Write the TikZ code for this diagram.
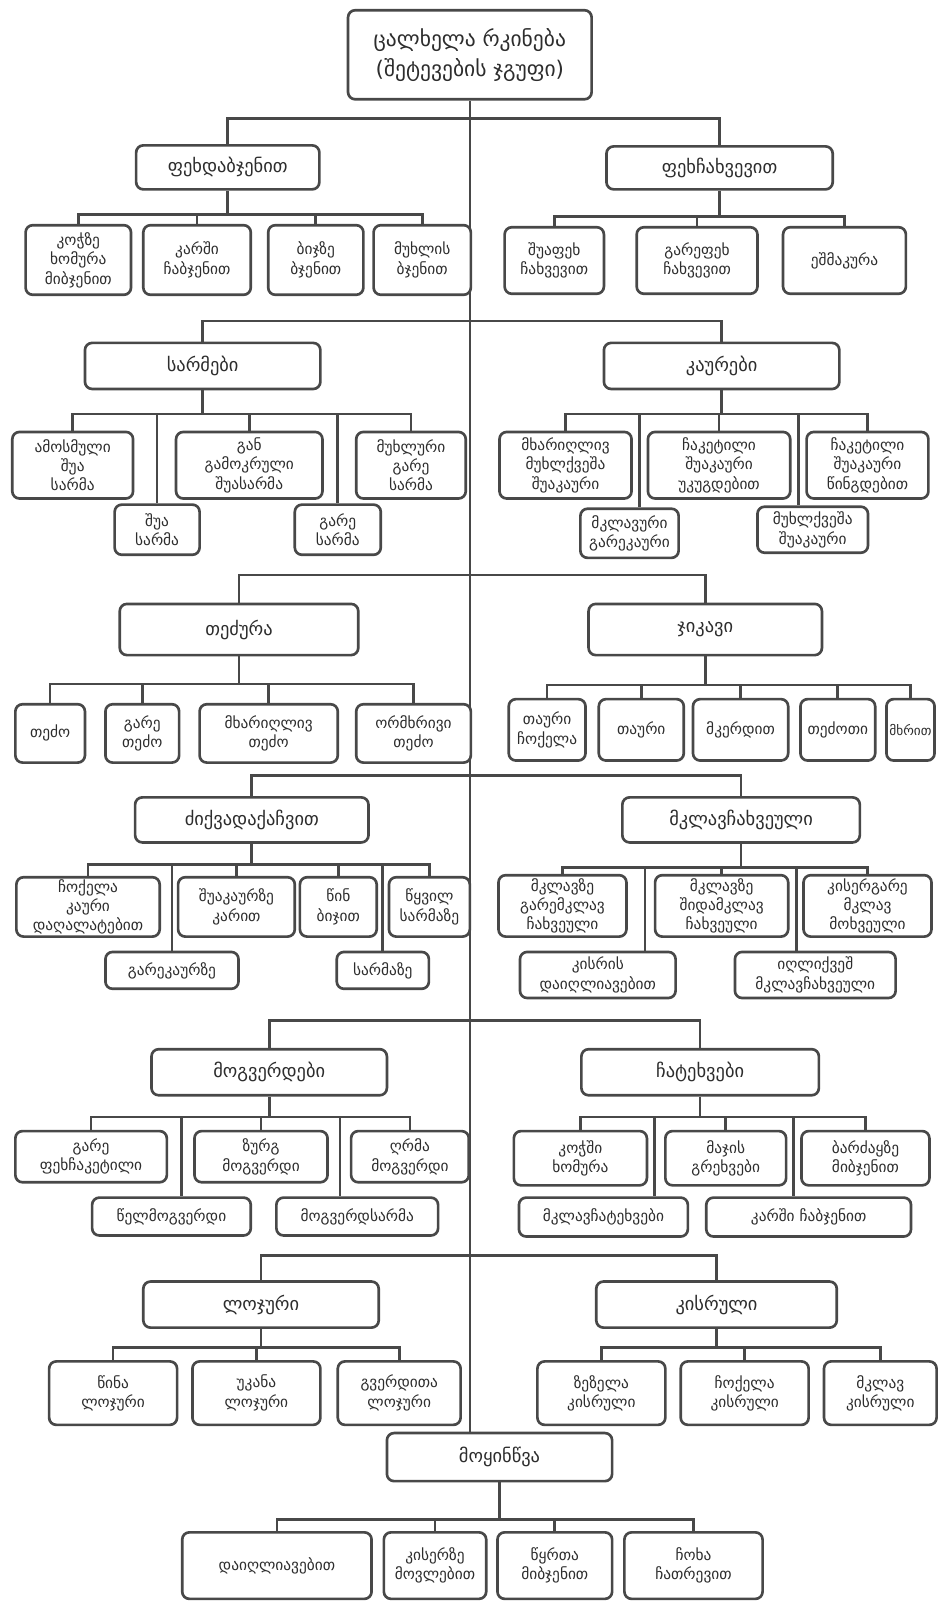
\documentclass[tikz,border=0pt]{standalone}
\usepackage{fontspec}
\setmainfont{DejaVu Sans}
\usetikzlibrary{calc,backgrounds}
\definecolor{ink}{RGB}{72,72,72}
\definecolor{txt}{RGB}{45,45,45}
\begin{document}
\begin{tikzpicture}[x=1pt,y=-1pt,line join=round,line cap=round,
    box/.style={draw=ink,line width=2.6pt,rounded corners=7pt,fill=white,align=center,
      inner sep=0pt,text=txt,font=\fontsize{15}{19}\selectfont},
    head/.style={box,font=\fontsize{18}{22}\selectfont},
    link/.style={draw=ink,line width=2.6pt}]
\useasboundingbox (0,0) rectangle (918,1568);
% headers
\node[head,minimum width=238,minimum height=87,font=\fontsize{21}{26}\selectfont] (top) at (459,53.5) {ცალხელა რკინება\\[3pt](შეტევების ჯგუფი)};
\node[head,minimum width=179,minimum height=43] (fd) at (222.5,163.5) {ფეხდაბჯენით};
\node[head,minimum width=221,minimum height=42] (fc) at (703,164) {ფეხჩახვევით};
\node[head,minimum width=230,minimum height=45] (sar) at (198,357.5) {სარმები};
\node[head,minimum width=230,minimum height=45] (kau) at (705,357.5) {კაურები};
\node[head,minimum width=233,minimum height=50] (tez) at (233.5,615) {თეძურა};
\node[head,minimum width=228,minimum height=50] (jik) at (689,615) {ჯიკავი};
\node[head,minimum width=228,minimum height=44] (dzi) at (246,801) {ძიქვადაქაჩვით};
\node[head,minimum width=232,minimum height=44] (mkl) at (724,801) {მკლავჩახვეული};
\node[head,minimum width=230,minimum height=45] (mog) at (263,1047.5) {მოგვერდები};
\node[head,minimum width=232,minimum height=45] (cht) at (684,1047.5) {ჩატეხვები};
\node[head,minimum width=230,minimum height=45] (loj) at (255,1274.5) {ლოჯური};
\node[head,minimum width=235,minimum height=45] (kis) at (700,1274.5) {კისრული};
\node[head,minimum width=220,minimum height=47] (moy) at (488,1423.5) {მოყინწვა};
% leaves
\node[box,minimum width=103,minimum height=68] (a1) at (76.5,254) {კოჭზე\\ხომურა\\მიბჯენით};
\node[box,minimum width=105,minimum height=68] (a2) at (192.5,254) {კარში\\ჩაბჯენით};
\node[box,minimum width=93,minimum height=68] (a3) at (308.5,254) {ბიჯზე\\ბჯენით};
\node[box,minimum width=95,minimum height=68] (a4) at (412.5,254) {მუხლის\\ბჯენით};
\node[box,minimum width=97,minimum height=65] (b1) at (541.5,254.5) {შუაფეხ\\ჩახვევით};
\node[box,minimum width=118,minimum height=65] (b2) at (681,254.5) {გარეფეხ\\ჩახვევით};
\node[box,minimum width=120,minimum height=65] (b3) at (825,254.5) {ეშმაკურა};
\node[box,minimum width=118,minimum height=65] (s1) at (71,454.5) {ამოსმული\\შუა\\სარმა};
\node[box,minimum width=83,minimum height=49] (s2) at (153.5,517.5) {შუა\\სარმა};
\node[box,minimum width=143,minimum height=65] (s3) at (243.5,454.5) {გან\\გამოკრული\\შუასარმა};
\node[box,minimum width=84,minimum height=49] (s4) at (330,517.5) {გარე\\სარმა};
\node[box,minimum width=107,minimum height=65] (s5) at (401.5,454.5) {მუხლური\\გარე\\სარმა};
\node[box,minimum width=129,minimum height=65] (k1) at (552.5,454.5) {მხარიღლივ\\მუხლქვეშა\\შუაკაური};
\node[box,minimum width=96,minimum height=48] (k2) at (615,521) {მკლავური\\გარეკაური};
\node[box,minimum width=139,minimum height=65] (k3) at (702.5,454.5) {ჩაკეტილი\\შუაკაური\\უკუგდებით};
\node[box,minimum width=108,minimum height=45] (k4) at (794,517.5) {მუხლქვეშა\\შუაკაური};
\node[box,minimum width=119,minimum height=65] (k5) at (847.5,454.5) {ჩაკეტილი\\შუაკაური\\წინგდებით};
\node[box,minimum width=68,minimum height=57] (t1) at (49,716.5) {თეძო};
\node[box,minimum width=72,minimum height=57] (t2) at (139,716.5) {გარე\\თეძო};
\node[box,minimum width=135,minimum height=57] (t3) at (262.5,716.5) {მხარიღლივ\\თეძო};
\node[box,minimum width=112,minimum height=57] (t4) at (404,716.5) {ორმხრივი\\თეძო};
\node[box,minimum width=75,minimum height=60] (u1) at (534.5,713) {თაური\\ჩოქელა};
\node[box,minimum width=83,minimum height=60] (u2) at (626.5,713) {თაური};
\node[box,minimum width=93,minimum height=60] (u3) at (723.5,713) {მკერდით};
\node[box,minimum width=73,minimum height=60] (u4) at (818.5,713) {თეძოთი};
\node[box,minimum width=47,minimum height=60,font=\fontsize{13}{17}\selectfont] (u5) at (889.5,713) {მხრით};
\node[box,minimum width=140,minimum height=58] (d1) at (86,886) {ჩოქელა\\კაური\\დაღალატებით};
\node[box,minimum width=130,minimum height=36] (d2) at (168,948) {გარეკაურზე};
\node[box,minimum width=114,minimum height=58] (d3) at (231,886) {შუაკაურზე\\კარით};
\node[box,minimum width=75,minimum height=58] (d4) at (330.5,886) {წინ\\ბიჯით};
\node[box,minimum width=90,minimum height=36] (d5) at (374,948) {სარმაზე};
\node[box,minimum width=79,minimum height=58] (d6) at (419.5,886) {წყვილ\\სარმაზე};
\node[box,minimum width=125,minimum height=60] (m1) at (549.5,885) {მკლავზე\\გარემკლავ\\ჩახვეული};
\node[box,minimum width=152,minimum height=45] (m2) at (584,952.5) {კისრის\\დაიღლიავებით};
\node[box,minimum width=130,minimum height=60] (m3) at (705,885) {მკლავზე\\შიდამკლავ\\ჩახვეული};
\node[box,minimum width=157,minimum height=45] (m4) at (796.5,952.5) {იღლიქვეშ\\მკლავჩახვეული};
\node[box,minimum width=125,minimum height=60] (m5) at (847.5,885) {კისერგარე\\მკლავ\\მოხვეული};
\node[box,minimum width=148,minimum height=50] (g1) at (89,1130) {გარე\\ფეხჩაკეტილი};
\node[box,minimum width=155,minimum height=37] (g2) at (167.5,1188.5) {წელმოგვერდი};
\node[box,minimum width=130,minimum height=50] (g3) at (255,1130) {ზურგ\\მოგვერდი};
\node[box,minimum width=158,minimum height=37] (g4) at (349,1188.5) {მოგვერდსარმა};
\node[box,minimum width=115,minimum height=50] (g5) at (400.5,1130) {ღრმა\\მოგვერდი};
\node[box,minimum width=130,minimum height=53] (h1) at (567,1131.5) {კოჭში\\ხომურა};
\node[box,minimum width=165,minimum height=38] (h2) at (589.5,1189) {მკლავჩატეხვები};
\node[box,minimum width=118,minimum height=53] (h3) at (709,1131.5) {მაჯის\\გრეხვები};
\node[box,minimum width=200,minimum height=38] (h4) at (790,1189) {კარში ჩაბჯენით};
\node[box,minimum width=125,minimum height=53] (h5) at (845.5,1131.5) {ბარძაყზე\\მიბჯენით};
\node[box,minimum width=125,minimum height=62] (l1) at (110.5,1361) {წინა\\ლოჯური};
\node[box,minimum width=125,minimum height=62] (l2) at (250.5,1361) {უკანა\\ლოჯური};
\node[box,minimum width=120,minimum height=62] (l3) at (390,1361) {გვერდითა\\ლოჯური};
\node[box,minimum width=125,minimum height=62] (q1) at (587.5,1361) {ზეზელა\\კისრული};
\node[box,minimum width=125,minimum height=62] (q2) at (727.5,1361) {ჩოქელა\\კისრული};
\node[box,minimum width=110,minimum height=62] (q3) at (860,1361) {მკლავ\\კისრული};
\node[box,minimum width=185,minimum height=65] (z1) at (270.5,1529.5) {დაიღლიავებით};
\node[box,minimum width=100,minimum height=65] (z2) at (425,1529.5) {კისერზე\\მოვლებით};
\node[box,minimum width=112,minimum height=65] (z3) at (542,1529.5) {წყრთა\\მიბჯენით};
\node[box,minimum width=135,minimum height=65] (z4) at (677.5,1529.5) {ჩოხა\\ჩათრევით};
\begin{scope}[on background layer]
\draw[link] (top.south) -- (top.south |- moy.north);
\draw[link] (fd.north) -- ++(0,-25) -| (fc.north);
\draw[link] (sar.north) -- ++(0,-20) -| (kau.north);
\draw[link] (tez.north) -- ++(0,-27) -| (jik.north);
\draw[link] (dzi.north) -- ++(0,-20) -| (mkl.north);
\draw[link] (mog.north) -- ++(0,-27) -| (cht.north);
\draw[link] (loj.north) -- ++(0,-24) -| (kis.north);
\draw[link] (fd.south) -- ++(0,23) coordinate (fdb);
\draw[link] (fc.south) -- ++(0,25) coordinate (fcb);
\draw[link] (sar.south) -- ++(0,23) coordinate (sarb);
\draw[link] (kau.south) -- ++(0,23) coordinate (kaub);
\draw[link] (tez.south) -- ++(0,27) coordinate (tezb);
\draw[link] (jik.south) -- ++(0,28) coordinate (jikb);
\draw[link] (dzi.south) -- ++(0,20) coordinate (dzib);
\draw[link] (mkl.south) -- ++(0,23) coordinate (mklb);
\draw[link] (mog.south) -- ++(0,20) coordinate (mogb);
\draw[link] (cht.south) -- ++(0,20) coordinate (chtb);
\draw[link] (loj.south) -- ++(0,18) coordinate (lojb);
\draw[link] (kis.south) -- ++(0,18) coordinate (kisb);
\draw[link] (moy.south) -- ++(0,36) coordinate (moyb);
\foreach \c in {a1,a2,a3,a4} \draw[link] (fdb) -| (\c.north);
\foreach \c in {b1,b2,b3} \draw[link] (fcb) -| (\c.north);
\foreach \c in {s1,s2,s3,s4,s5} \draw[link] (sarb) -| (\c.north);
\foreach \c in {k1,k3,k5} \draw[link] (kaub) -| (\c.north);
\draw[link] (kaub) -| ($(k2.north)+(10,0)$);
\draw[link] (kaub) -| ($(k4.north)+(-14,0)$);
\foreach \c in {t1,t2,t3,t4} \draw[link] (tezb) -| (\c.north);
\foreach \c in {u1,u2,u3,u4,u5} \draw[link] (jikb) -| (\c.north);
\foreach \c in {d1,d2,d3,d4,d5,d6} \draw[link] (dzib) -| (\c.north);
\foreach \c in {m1,m3,m5} \draw[link] (mklb) -| (\c.north);
\draw[link] (mklb) -| ($(m2.north)+(46,0)$);
\draw[link] (mklb) -| ($(m4.north)+(-18.5,0)$);
\foreach \c in {g1,g3,g5} \draw[link] (mogb) -| (\c.north);
\draw[link] (mogb) -| ($(g2.north)+(10,0)$);
\draw[link] (mogb) -| ($(g4.north)+(-17,0)$);
\foreach \c in {h1,h3,h5} \draw[link] (chtb) -| (\c.north);
\draw[link] (chtb) -| ($(h2.north)+(50,0)$);
\draw[link] (chtb) -| ($(h4.north)+(-15,0)$);
\foreach \c in {l1,l2,l3} \draw[link] (lojb) -| (\c.north);
\foreach \c in {q1,q2,q3} \draw[link] (kisb) -| (\c.north);
\foreach \c in {z1,z2,z3,z4} \draw[link] (moyb) -| (\c.north);
\end{scope}
\end{tikzpicture}
\end{document}
